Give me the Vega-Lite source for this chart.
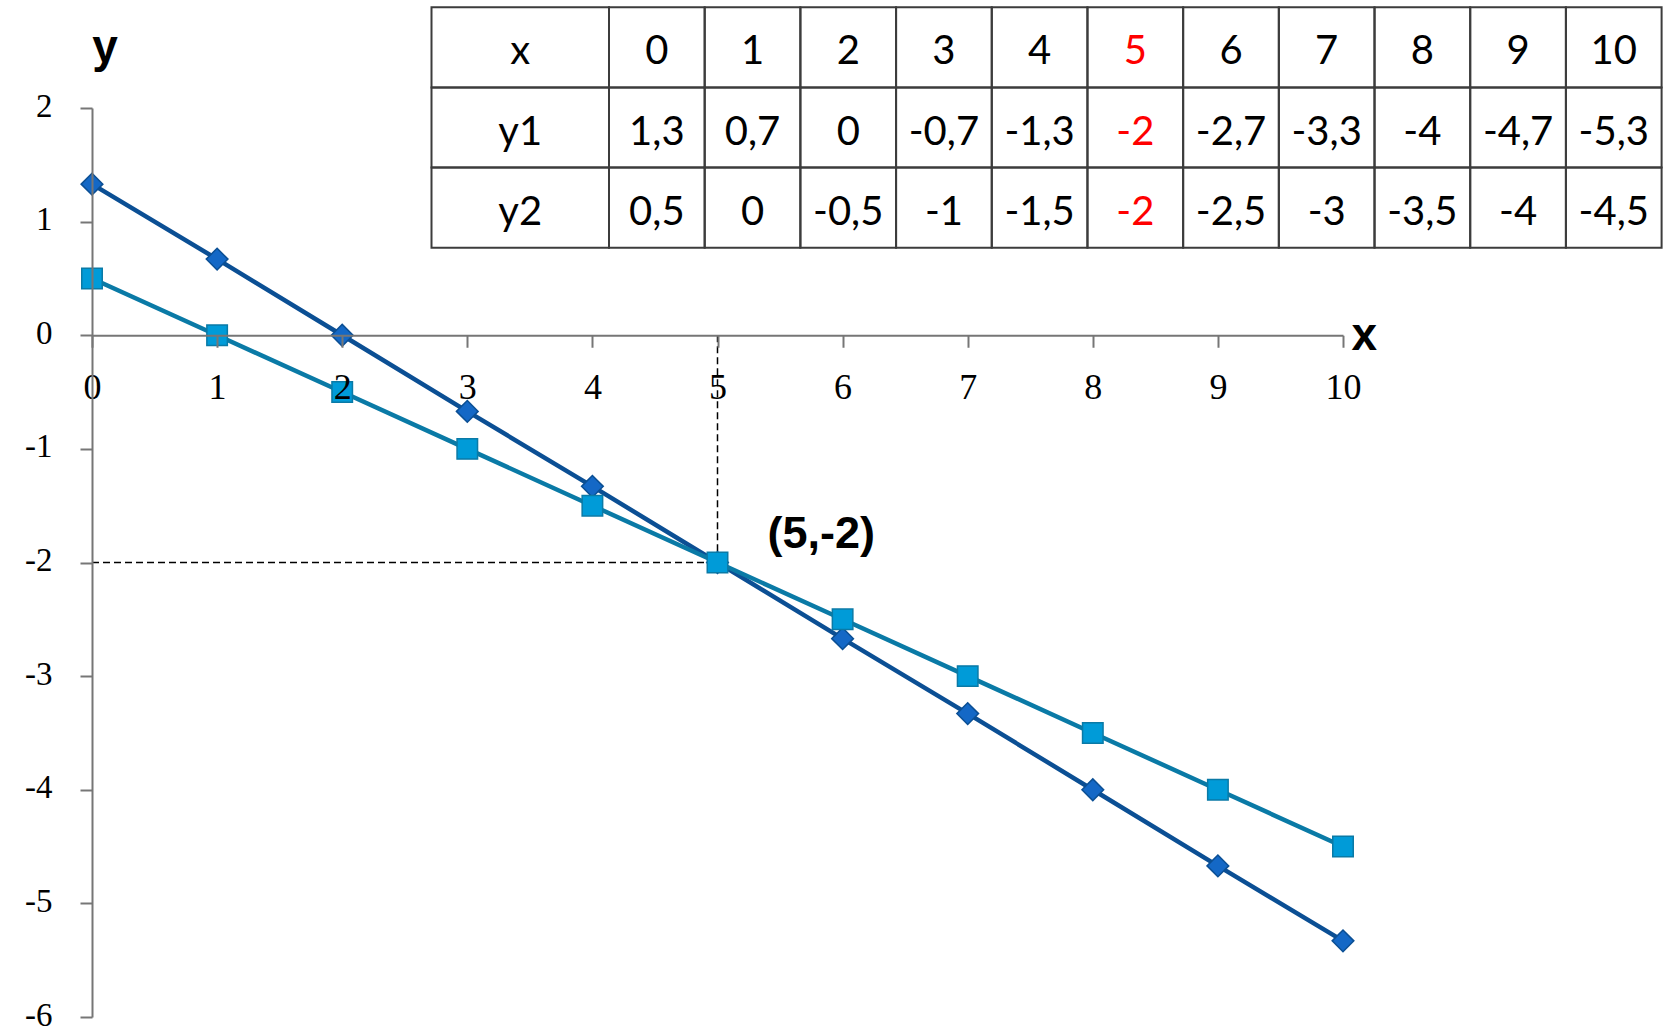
{
  "$schema": "https://vega.github.io/schema/vega-lite/v6.json",
  "width": 1251,
  "height": 909,
  "autosize": {"type": "none"},
  "padding": {"left": 92, "top": 108, "right": 322, "bottom": 17},
  "background": "#ffffff",
  "config": {
    "view": {"stroke": null},
    "axis": {
      "grid": false,
      "labelFont": "Liberation Serif",
      "labelFontSize": 36,
      "labelColor": "#000000",
      "labelFlush": false,
      "labelOverlap": false,
      "domainColor": "#767676",
      "domainWidth": 2,
      "tickColor": "#767676",
      "tickWidth": 2,
      "tickSize": 12,
      "titleFont": "Liberation Sans",
      "titleFontWeight": "bold",
      "titleFontSize": 46,
      "titleColor": "#000000"
    }
  },
  "datasets": {
    "series": [
      {"x": 0, "y": 1.33, "series": "y1"},
      {"x": 1, "y": 0.67, "series": "y1"},
      {"x": 2, "y": 0, "series": "y1"},
      {"x": 3, "y": -0.67, "series": "y1"},
      {"x": 4, "y": -1.33, "series": "y1"},
      {"x": 5, "y": -2, "series": "y1"},
      {"x": 6, "y": -2.67, "series": "y1"},
      {"x": 7, "y": -3.33, "series": "y1"},
      {"x": 8, "y": -4, "series": "y1"},
      {"x": 9, "y": -4.67, "series": "y1"},
      {"x": 10, "y": -5.33, "series": "y1"},
      {"x": 0, "y": 0.5, "series": "y2"},
      {"x": 1, "y": 0, "series": "y2"},
      {"x": 2, "y": -0.5, "series": "y2"},
      {"x": 3, "y": -1, "series": "y2"},
      {"x": 4, "y": -1.5, "series": "y2"},
      {"x": 5, "y": -2, "series": "y2"},
      {"x": 6, "y": -2.5, "series": "y2"},
      {"x": 7, "y": -3, "series": "y2"},
      {"x": 8, "y": -3.5, "series": "y2"},
      {"x": 9, "y": -4, "series": "y2"},
      {"x": 10, "y": -4.5, "series": "y2"}
    ],
    "guides": [
      {"x0": 0, "x1": 5, "y0": -2, "y1": -2},
      {"x0": 5, "x1": 5, "y0": 0, "y1": -2}
    ],
    "note": [{"x": 5, "y": -2, "label": "(5,-2)"}],
    "head": [
      {"row": "x", "col": "h", "text": "x"},
      {"row": "y1", "col": "h", "text": "y1"},
      {"row": "y2", "col": "h", "text": "y2"}
    ],
    "cells": [
      {"row": "x", "col": "0", "text": "0"},
      {"row": "x", "col": "1", "text": "1"},
      {"row": "x", "col": "2", "text": "2"},
      {"row": "x", "col": "3", "text": "3"},
      {"row": "x", "col": "4", "text": "4"},
      {"row": "x", "col": "5", "text": "5"},
      {"row": "x", "col": "6", "text": "6"},
      {"row": "x", "col": "7", "text": "7"},
      {"row": "x", "col": "8", "text": "8"},
      {"row": "x", "col": "9", "text": "9"},
      {"row": "x", "col": "10", "text": "10"},
      {"row": "y1", "col": "0", "text": "1,3"},
      {"row": "y1", "col": "1", "text": "0,7"},
      {"row": "y1", "col": "2", "text": "0"},
      {"row": "y1", "col": "3", "text": "-0,7"},
      {"row": "y1", "col": "4", "text": "-1,3"},
      {"row": "y1", "col": "5", "text": "-2"},
      {"row": "y1", "col": "6", "text": "-2,7"},
      {"row": "y1", "col": "7", "text": "-3,3"},
      {"row": "y1", "col": "8", "text": "-4"},
      {"row": "y1", "col": "9", "text": "-4,7"},
      {"row": "y1", "col": "10", "text": "-5,3"},
      {"row": "y2", "col": "0", "text": "0,5"},
      {"row": "y2", "col": "1", "text": "0"},
      {"row": "y2", "col": "2", "text": "-0,5"},
      {"row": "y2", "col": "3", "text": "-1"},
      {"row": "y2", "col": "4", "text": "-1,5"},
      {"row": "y2", "col": "5", "text": "-2"},
      {"row": "y2", "col": "6", "text": "-2,5"},
      {"row": "y2", "col": "7", "text": "-3"},
      {"row": "y2", "col": "8", "text": "-3,5"},
      {"row": "y2", "col": "9", "text": "-4"},
      {"row": "y2", "col": "10", "text": "-4,5"}
    ]
  },
  "layer": [
    {
      "layer": [
        {
          "data": {"name": "guides"},
          "mark": {"type": "rule", "color": "#000000", "strokeWidth": 1.5, "strokeDash": [7, 4]},
          "encoding": {
            "x": {
              "field": "x0", "type": "quantitative",
              "scale": {"domain": [0, 10], "nice": false, "zero": false},
              "axis": {
                "values": [0, 1, 2, 3, 4, 5, 6, 7, 8, 9, 10],
                "offset": -681.75,
                "zindex": 1,
                "labelBaseline": "alphabetic",
                "labelPadding": 51,
                "labelExpr": "'' + datum.value",
                "title": "x",
                "titleX": 1259,
                "titleY": 14,
                "titleAlign": "left",
                "titleBaseline": "alphabetic"
              }
            },
            "x2": {"field": "x1"},
            "y": {
              "field": "y0", "type": "quantitative",
              "scale": {"domain": [-6, 2], "nice": false, "zero": false},
              "axis": {
                "values": [-6, -5, -4, -3, -2, -1, 0, 1, 2],
                "zindex": 1,
                "labelFontSize": 33,
                "labelOffset": -2,
                "labelBaseline": "middle",
                "labelPadding": 28,
                "labelExpr": "'' + datum.value",
                "title": "y",
                "titleAngle": 0,
                "titleX": 12.5,
                "titleY": -47,
                "titleAlign": "center",
                "titleBaseline": "alphabetic"
              }
            },
            "y2": {"field": "y1"}
          }
        },
        {
          "data": {"name": "series"},
          "mark": {"type": "line", "strokeWidth": 4.5},
          "encoding": {
            "x": {"field": "x", "type": "quantitative"},
            "y": {"field": "y", "type": "quantitative"},
            "stroke": {
              "field": "series", "type": "nominal",
              "scale": {"domain": ["y1", "y2"], "range": ["#0b4f94", "#0a7aa6"]},
              "legend": null
            }
          }
        },
        {
          "data": {"name": "series"},
          "mark": {"type": "point", "filled": true, "strokeWidth": 1.5, "opacity": 1},
          "encoding": {
            "x": {"field": "x", "type": "quantitative"},
            "y": {"field": "y", "type": "quantitative"},
            "shape": {
              "field": "series", "type": "nominal",
              "scale": {"domain": ["y1", "y2"], "range": ["diamond", "square"]},
              "legend": null
            },
            "size": {
              "field": "series", "type": "ordinal",
              "scale": {"domain": ["y1", "y2"], "range": [470, 420]},
              "legend": null
            },
            "fill": {
              "field": "series", "type": "nominal",
              "scale": {"domain": ["y1", "y2"], "range": ["#1468c6", "#009bd8"]},
              "legend": null
            },
            "stroke": {"field": "series", "type": "nominal", "legend": null}
          }
        },
        {
          "data": {"name": "note"},
          "mark": {
            "type": "text", "font": "Liberation Sans", "fontWeight": "bold", "fontSize": 45,
            "align": "left", "baseline": "middle", "dx": 50, "dy": -29, "color": "#000000"
          },
          "encoding": {
            "x": {"field": "x", "type": "quantitative"},
            "y": {"field": "y", "type": "quantitative"},
            "text": {"field": "label"}
          }
        }
      ]
    },
    {
      "data": {"name": "head"},
      "encoding": {
        "x": {
          "field": "col", "type": "nominal",
          "scale": {"type": "band", "domain": ["h"], "range": [339.5, 517], "paddingInner": 0, "paddingOuter": 0},
          "axis": null
        },
        "y": {
          "field": "row", "type": "nominal",
          "scale": {"type": "band", "domain": ["x", "y1", "y2"], "range": [-100.7, 139.7], "paddingInner": 0, "paddingOuter": 0},
          "axis": null
        }
      },
      "layer": [
        {"mark": {"type": "rect", "fill": "transparent", "stroke": "#3c3c3c", "strokeWidth": 2}},
        {
          "mark": {"type": "text", "font": "Lato", "fontSize": 40, "align": "center", "baseline": "middle", "dy": 5, "color": "#000000"},
          "encoding": {"text": {"field": "text"}}
        }
      ]
    },
    {
      "data": {"name": "cells"},
      "encoding": {
        "x": {
          "field": "col", "type": "nominal",
          "scale": {"type": "band", "domain": ["0", "1", "2", "3", "4", "5", "6", "7", "8", "9", "10"], "range": [517, 1569.6], "paddingInner": 0, "paddingOuter": 0},
          "axis": null
        },
        "y": {
          "field": "row", "type": "nominal",
          "scale": {"type": "band", "domain": ["x", "y1", "y2"], "range": [-100.7, 139.7], "paddingInner": 0, "paddingOuter": 0},
          "axis": null
        }
      },
      "layer": [
        {"mark": {"type": "rect", "fill": "transparent", "stroke": "#3c3c3c", "strokeWidth": 2}},
        {
          "mark": {"type": "text", "font": "Lato", "fontSize": 40, "align": "center", "baseline": "middle", "dy": 5},
          "encoding": {
            "text": {"field": "text"},
            "color": {"condition": {"test": "datum.col === '5'", "value": "#ff0000"}, "value": "#000000"}
          }
        }
      ]
    }
  ],
  "resolve": {"scale": {"x": "independent", "y": "independent"}}
}
